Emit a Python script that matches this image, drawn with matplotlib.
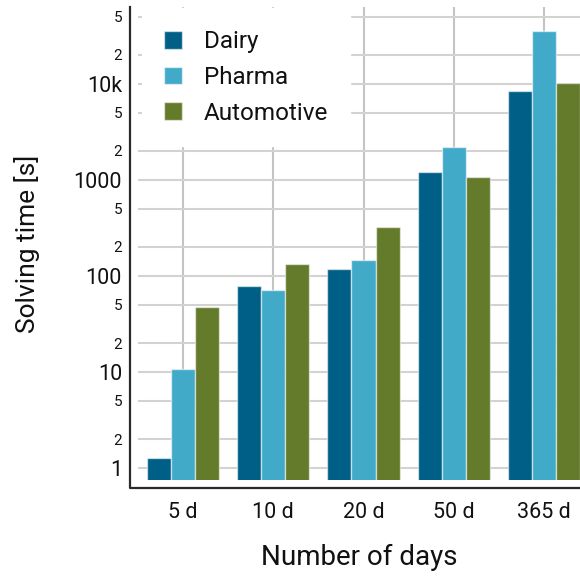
import numpy as np
import matplotlib
matplotlib.use('Agg')
import matplotlib.pyplot as plt
from matplotlib.lines import Line2D
from matplotlib.ticker import FixedLocator, FixedFormatter

plt.rcParams['font.family'] = ['Roboto', 'DejaVu Sans']

days = ['5 d', '10 d', '20 d', '50 d', '365 d']
dairy = [1.26, 78, 119, 1220, 8450]
pharma = [10.8, 71, 145, 2190, 35500]
automotive = [47, 133, 320, 1080, 10200]

series = [('Dairy', dairy, '#005f87'),
          ('Pharma', pharma, '#42aac9'),
          ('Automotive', automotive, '#657b2c')]

major_vals = [1, 10, 100, 1000, 10000]
major_labels = ['1', '10', '100', '1000', '10k']
minor_vals = [2, 5, 20, 50, 200, 500, 2000, 5000, 20000, 50000]
minor_labels = ['2', '5'] * 5

W, H = 580, 576
fig = plt.figure(figsize=(W / 100, H / 100), dpi=100)
ax = fig.add_axes([138 / W, 1 - 480 / H, 442 / W, 473 / H])

x = np.arange(len(days))
bw = 0.8 / 3
for i, (name, vals, col) in enumerate(series):
    ax.bar(x + (i - 1) * bw, vals, bw, color=col, label=name,
           edgecolor=(1, 1, 1, 0.55), linewidth=1.0, zorder=3)

ax.set_yscale('log')
ax.set_ylim(0.75, 63000)
ax.set_xlim(-0.5, 4.4)

ax.yaxis.set_major_locator(FixedLocator(major_vals))
ax.yaxis.set_major_formatter(FixedFormatter(major_labels))
ax.yaxis.set_minor_locator(FixedLocator(minor_vals))
ax.yaxis.set_minor_formatter(FixedFormatter(minor_labels))
ax.tick_params(axis='y', which='major', length=0, labelsize=15.5, pad=11.5, colors='#111111')
ax.tick_params(axis='y', which='minor', length=0, labelsize=11, pad=11.5, colors='#111111')

ax.set_xticks(x)
ax.set_xticklabels(days)
ax.tick_params(axis='x', length=0, labelsize=15.5, pad=16, colors='#111111')

ax.grid(True, axis='y', which='both', color='#d2d2d2', linewidth=1.5, zorder=0)
ax.grid(True, axis='x', color='#c4c4c4', linewidth=1.5, zorder=0)
ax.set_axisbelow(True)

for s in ax.spines.values():
    s.set_visible(False)
fig.add_artist(Line2D([130 / W, 130 / W, 1.0], [1 - 7 / H, 1 - 488 / H, 1 - 488 / H],
                      transform=fig.transFigure, color='#2a2a2a', linewidth=1.6))

ax.set_ylabel('Solving time [s]', fontsize=19, color='#111111')
ax.yaxis.set_label_coords(-0.222, 0.5)
ax.set_xlabel('Number of days', fontsize=20, color='#111111', va='top')
ax.xaxis.set_label_coords(0.5, -0.135)

leg = ax.legend(loc='upper left', bbox_to_anchor=(0.01, 0.997), borderaxespad=0,
                fontsize=17.5, frameon=True, fancybox=False, framealpha=1,
                edgecolor='white', handlelength=0.74, handleheight=0.74,
                handletextpad=0.9, labelspacing=0.52, borderpad=0.9)
for t in leg.get_texts():
    t.set_color('#111111')

fig.savefig('out.png', dpi=100)
